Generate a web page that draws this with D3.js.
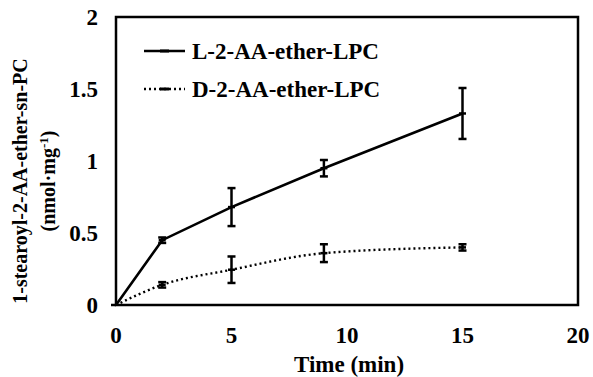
<!DOCTYPE html>
<html>
<head>
<meta charset="utf-8">
<script src="https://cdn.jsdelivr.net/npm/d3@7"></script>
<style>
  html, body { margin: 0; padding: 0; background: #fff; }
  svg text { font-family: "Liberation Serif", "Times New Roman", serif; font-weight: bold; fill: #000; }
</style>
</head>
<body>
<svg id="chart" width="593" height="377"></svg>
<script>
// time points (min)
const timesL = [0, 2, 5, 9, 15];
const valuesL = [0, 0.45, 0.68, 0.95, 1.33];
const errorsL = [0, 0.012, 0.125, 0.05, 0.17];

const timesD = [0, 2, 5, 9, 15];
const valuesD = [0, 0.14, 0.245, 0.36, 0.40];
const errorsD = [0, 0.012, 0.085, 0.055, 0.015];

const xTicks = [0, 5, 10, 15, 20];
const yTicks = [0, 0.5, 1, 1.5, 2];
const yTickLabels = ["0", "0.5", "1", "1.5", "2"];
const seriesNames = ["L-2-AA-ether-LPC", "D-2-AA-ether-LPC"];

const svg = d3.select("#chart");
const m = { l: 116, r: 578, t: 17, b: 305 };

const x = d3.scaleLinear().domain([0, 20]).range([m.l, m.r]);
const y = d3.scaleLinear().domain([0, 2]).range([m.b, m.t]);

// plot frame
svg.append("rect")
  .attr("x", m.l).attr("y", m.t)
  .attr("width", m.r - m.l).attr("height", m.b - m.t)
  .attr("fill", "none").attr("stroke", "#000").attr("stroke-width", 2.5);

// x-axis line slightly extended at the left
svg.append("line").attr("x1", m.l - 5).attr("x2", m.l).attr("y1", y(0)).attr("y2", y(0))
  .attr("stroke", "#000").attr("stroke-width", 2.5);

// tick labels
svg.selectAll("text.xt").data(xTicks).join("text")
  .attr("class", "xt")
  .attr("x", (d) => x(d)).attr("y", 343)
  .attr("text-anchor", "middle").attr("font-size", 23)
  .text((d) => d);

svg.selectAll("text.yt").data(yTicks).join("text")
  .attr("class", "yt")
  .attr("x", 98).attr("y", (d) => y(d) + 8)
  .attr("text-anchor", "end").attr("font-size", 23)
  .text((d, i) => yTickLabels[i]);

// axis titles
svg.append("text").attr("x", 349).attr("y", 372)
  .attr("text-anchor", "middle").attr("font-size", 23).text("Time (min)");

const yt = svg.append("text").attr("transform", "translate(27,181) rotate(-90)")
  .attr("text-anchor", "middle").attr("font-size", 20);
yt.append("tspan").attr("x", 0).attr("y", 0).text("1-stearoyl-2-AA-ether-sn-PC");
const yt2 = svg.append("text").attr("transform", "translate(55,181) rotate(-90)")
  .attr("text-anchor", "middle").attr("font-size", 20);
yt2.append("tspan").text("(nmol·mg");
yt2.append("tspan").attr("dy", -7).attr("font-size", 13).text("-1");
yt2.append("tspan").attr("dy", 7).text(")");

// series
const seriesL = timesL.map((t, i) => ({ t, v: valuesL[i], e: errorsL[i] }));
const seriesD = timesD.map((t, i) => ({ t, v: valuesD[i], e: errorsD[i] }));

svg.append("path").datum(seriesL)
  .attr("fill", "none").attr("stroke", "#000").attr("stroke-width", 2.6)
  .attr("d", d3.line().x((d) => x(d.t)).y((d) => y(d.v)));

svg.append("path").datum(seriesD)
  .attr("fill", "none").attr("stroke", "#000").attr("stroke-width", 2.4)
  .attr("stroke-dasharray", "2,3")
  .attr("d", d3.line().curve(d3.curveMonotoneX).x((d) => x(d.t)).y((d) => y(d.v)));

function errorBars(series, cls) {
  const pts = series.filter((d) => d.t > 0);
  const g = svg.append("g").attr("class", cls).attr("stroke", "#000").attr("stroke-width", 2.5);
  g.selectAll("line.v").data(pts).join("line").attr("class", "v")
    .attr("x1", (d) => x(d.t)).attr("x2", (d) => x(d.t))
    .attr("y1", (d) => y(d.v + d.e) - 1).attr("y2", (d) => y(d.v - d.e) + 1);
  g.selectAll("line.top").data(pts).join("line").attr("class", "top")
    .attr("x1", (d) => x(d.t) - 4).attr("x2", (d) => x(d.t) + 4)
    .attr("y1", (d) => y(d.v + d.e) - 1).attr("y2", (d) => y(d.v + d.e) - 1);
  g.selectAll("line.bot").data(pts).join("line").attr("class", "bot")
    .attr("x1", (d) => x(d.t) - 4).attr("x2", (d) => x(d.t) + 4)
    .attr("y1", (d) => y(d.v - d.e) + 1).attr("y2", (d) => y(d.v - d.e) + 1);
  // small marker dash at each point
  g.selectAll("line.mk").data(pts).join("line").attr("class", "mk")
    .attr("x1", (d) => x(d.t) - 3.5).attr("x2", (d) => x(d.t) + 3.5)
    .attr("y1", (d) => y(d.v)).attr("y2", (d) => y(d.v));
}
errorBars(seriesL, "errL");
errorBars(seriesD, "errD");

// legend
const legY = [51, 89];
const leg = svg.append("g");
leg.append("line").attr("x1", 144).attr("x2", 185).attr("y1", legY[0]).attr("y2", legY[0])
  .attr("stroke", "#000").attr("stroke-width", 2.6);
leg.append("line").attr("x1", 144).attr("x2", 185).attr("y1", legY[1]).attr("y2", legY[1])
  .attr("stroke", "#000").attr("stroke-width", 2.4).attr("stroke-dasharray", "2,3");
legY.forEach((ly) => {
  leg.append("line").attr("x1", 160).attr("x2", 169).attr("y1", ly).attr("y2", ly)
    .attr("stroke", "#000").attr("stroke-width", 3);
});
leg.selectAll("text").data(seriesNames).join("text")
  .attr("x", 192).attr("y", (d, i) => legY[i] + 8)
  .attr("font-size", 23).text((d) => d);
</script>
</body>
</html>
